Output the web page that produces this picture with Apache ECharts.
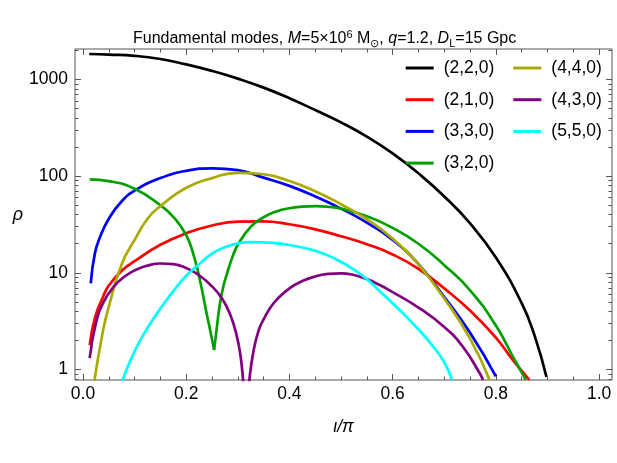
<!DOCTYPE html>
<html>
<head>
<meta charset="utf-8">
<script src="https://cdn.jsdelivr.net/npm/echarts@6/dist/echarts.min.js"></script>
<style>html,body{margin:0;padding:0;background:#fff;}#c{width:617px;height:463px;}</style>
</head>
<body>
<div id="c"></div>
<script>
// ---- data (x = iota/pi, y = rho) ----
const names = ['(2,2,0)','(2,1,0)','(3,3,0)','(3,2,0)','(4,4,0)','(4,3,0)','(5,5,0)'];
const colors = ['#000000','#ff0000','#0000ff','#00a000','#aaaa00','#800080','#00ffff'];

const x220 = [0.012,0.05,0.1,0.15,0.2,0.25,0.3,0.35,0.4,0.45,0.5,0.55,0.6,0.65,0.7,0.75,0.8,0.85,0.875,0.898];
const y220 = [1836,1811,1758,1629,1432,1227,1021,824,640,483,360,257,172,107,61.7,32.4,14.4,4.86,2.24,0.84];

const x210 = [0.013,0.023,0.039,0.05,0.075,0.1,0.15,0.2,0.25,0.3,0.35,0.4,0.45,0.5,0.55,0.6,0.65,0.7,0.75,0.8,0.833,0.865];
const y210 = [1.79,3.41,5.66,7.4,10.5,13.2,19.5,25.7,30.9,33.9,34.1,31.8,28.2,23.9,19.8,15.5,11,6.9,4.07,2.14,1.25,0.78];

const x330 = [0.015,0.023,0.033,0.05,0.075,0.1,0.15,0.2,0.25,0.3,0.35,0.4,0.45,0.5,0.55,0.6,0.65,0.7,0.75,0.8];
const y330 = [7.8,15.9,23.5,36.3,55,70.8,95.5,113.5,120.5,115.3,96.6,79.4,61.7,46.2,33.1,21.9,12.3,5.62,2.4,0.85];

// (3,2,0): left and right of its zero near 0.254
const x320a = [0.013,0.05,0.1,0.15,0.175,0.2,0.215,0.2265,0.2395,0.249,0.254];
const y320a = [92.7,89,74,50,38,24.5,14.8,8.43,3.81,2.18,1.59];
const x320b = [0.254,0.259,0.265,0.272,0.28,0.29,0.3,0.325,0.35,0.375,0.4,0.425,0.45,0.475,0.5,0.55,0.6,0.65,0.7,0.75,0.8,0.833,0.858];
const y320b = [1.59,2.63,4.68,7.24,10.2,14.8,19.5,29.9,37.6,43.2,46.6,48.4,49,48.3,46.2,38.5,29.2,20,12,6.6,2.85,1.36,0.78];

const x440 = [0.022,0.039,0.05,0.075,0.1,0.125,0.15,0.2,0.25,0.3,0.35,0.4,0.45,0.5,0.55,0.6,0.65,0.7,0.75,0.788];
const y440 = [0.76,2.56,4.47,12.3,21.9,36.3,49,75.9,95.5,108.4,104.7,89.1,70,51.3,35.9,22.6,12.2,5.43,2.09,0.78];

// (4,3,0): left and right of its zero near 0.316
const x430a = [0.013,0.025,0.04,0.06,0.08,0.1,0.125,0.15,0.175,0.2,0.225,0.25,0.27,0.285,0.297,0.305,0.31,0.314];
const y430a = [1.31,3.02,5.0,7.24,9.1,10.6,11.9,12.5,12.3,11.2,9.44,7.24,5.37,3.72,2.34,1.41,0.79,0.4];
const x430b = [0.318,0.323,0.33,0.34,0.35,0.362,0.375,0.4,0.425,0.45,0.475,0.5,0.525,0.55,0.575,0.6,0.65,0.7,0.736,0.769,0.775];
const y430b = [0.4,0.84,1.51,2.51,3.31,4.27,5.25,6.92,8.22,9.16,9.77,9.89,9.5,8.61,7.48,6.31,4.37,2.75,1.72,0.91,0.78];

const x550 = [0.076,0.1,0.125,0.15,0.175,0.2,0.225,0.25,0.275,0.3,0.325,0.35,0.375,0.4,0.425,0.45,0.475,0.5,0.525,0.55,0.575,0.6,0.625,0.65,0.675,0.7,0.715];
const y550 = [0.76,1.55,2.69,4.27,6.46,9.33,12.3,15.8,18.4,20.2,20.8,20.7,20.2,19.4,18.3,16.9,15.1,13.0,10.8,8.61,6.46,4.84,3.59,2.6,1.82,1.19,0.78];

// curve pieces: [series name index, xs, ys]
const pieces = [
  [0, x220, y220], [1, x210, y210], [2, x330, y330],
  [3, x320a, y320a], [3, x320b, y320b],
  [4, x440, y440],
  [5, x430a, y430a], [5, x430b, y430b],
  [6, x550, y550]
];

// ---- axes ----
const X_MIN = -0.0155, X_MAX = 1.025;
const Y_MIN = 0.779, Y_MAX = 2068;
const xTicksMajor = [0,0.2,0.4,0.6,0.8,1.0];
const xTicksMinor = [0.05,0.1,0.15,0.25,0.3,0.35,0.45,0.5,0.55,0.65,0.7,0.75,0.85,0.9,0.95];
const yTicksMajor = [1,10,100,1000];
const yTicksMinor = [0.8,0.9,2,3,4,5,6,7,8,9,20,30,40,50,60,70,80,90,200,300,400,500,600,700,800,900,2000];

const FONT = 'Liberation Sans';
const FRAME = '#555555';

function xAx(pos, ticks, len, labels) {
  return {
    type:'value', position:pos, min:X_MIN, max:X_MAX,
    axisLine:{show:false,onZero:false},
    splitLine:{show:false},
    axisTick:{show:true,inside:true,length:len,customValues:ticks,lineStyle:{color:FRAME,width:1}},
    axisLabel:{show:labels,customValues:ticks,margin:5,fontSize:17.5,fontFamily:FONT,color:'#000',
      formatter:v=>Number(v).toFixed(1)}
  };
}
function yAx(pos, ticks, len, labels) {
  return {
    type:'value', position:pos, min:Math.log10(Y_MIN), max:Math.log10(Y_MAX),
    axisLine:{show:false,onZero:false},
    splitLine:{show:false},
    axisTick:{show:true,inside:true,length:len,customValues:ticks.map(Math.log10),lineStyle:{color:FRAME,width:1}},
    axisLabel:{show:labels,customValues:ticks.map(Math.log10),margin:7,fontSize:17.5,fontFamily:FONT,color:'#000',
      formatter:v=>String(Math.round(Math.pow(10,v)))}
  };
}

const xAxes = [
  Object.assign(xAx('bottom', xTicksMajor, 6, true), {
    name:'ι/π', nameLocation:'middle', nameGap:38,
    nameTextStyle:{fontSize:17.5,fontFamily:FONT,fontStyle:'italic',color:'#000'}
  }),
  xAx('bottom', xTicksMinor, 3.5, false),
  xAx('top', xTicksMajor, 6, false),
  xAx('top', xTicksMinor, 3.5, false)
];
const yAxes = [
  {type:'log', logBase:10, min:Y_MIN, max:Y_MAX, show:false,
   axisLine:{show:false,onZero:false}, splitLine:{show:false}},
  Object.assign(yAx('left', yTicksMajor, 6, true), {
    name:'ρ', nameLocation:'middle', nameGap:34, nameRotate:0,
    nameTextStyle:{fontSize:18,fontFamily:FONT,fontStyle:'italic',color:'#000'}
  }),
  yAx('left', yTicksMinor, 3.5, false),
  yAx('right', yTicksMajor, 6, false),
  yAx('right', yTicksMinor, 3.5, false)
];

const series = pieces.map(([ni,xs,ys])=>({
  name:names[ni], type:'line', xAxisIndex:0, yAxisIndex:0,
  data: xs.map((x,k)=>[x, ys[k]]),
  symbol:'none', smooth:0.5, clip:true,
  lineStyle:{color:colors[ni], width:2.7},
  itemStyle:{color:colors[ni]},
  animation:false
}));

const legendText = {fontSize:17.5,fontFamily:FONT,color:'#000',lineHeight:20,padding:[0,0,0,5]};
const chart = echarts.init(document.getElementById('c'), null, {renderer:'canvas'});
chart.setOption({
  animation:false,
  backgroundColor:'#fff',
  title:{
    left:133, top:29, padding:0,
    text:'{a|Fundamental modes, }{i|M}{a|=5×10}{sup|6}{a| M}{sub|⊙}{a|, }{i|q}{a|=1.2, }{i|D}{sub|L}{a|=15 Gpc}',
    textStyle:{
      fontSize:16, fontFamily:FONT, color:'#000', fontWeight:'normal',
      rich:{
        a:{fontSize:16,fontFamily:FONT,color:'#000',lineHeight:20},
        i:{fontSize:16,fontFamily:FONT,color:'#000',fontStyle:'italic',lineHeight:20},
        sup:{fontSize:11,fontFamily:FONT,color:'#000',verticalAlign:'top',lineHeight:20},
        sub:{fontSize:11,fontFamily:FONT,color:'#000',verticalAlign:'bottom',lineHeight:20}
      }
    }
  },
  grid:{left:75,right:5,top:49,bottom:83,show:true,borderColor:FRAME,borderWidth:1,
        backgroundColor:'transparent',containLabel:false,outerBoundsMode:'none'},
  legend:[
    {data:names.slice(0,4), orient:'vertical', left:405.7, top:58, padding:0, icon:'rect',
     itemWidth:28, itemHeight:3, itemGap:11.7, textStyle:legendText, selectedMode:false},
    {data:names.slice(4), orient:'vertical', left:513.3, top:58, padding:0, icon:'rect',
     itemWidth:28, itemHeight:3, itemGap:11.7, textStyle:legendText, selectedMode:false}
  ],
  xAxis:xAxes,
  yAxis:yAxes,
  series:series
});
</script>
</body>
</html>
